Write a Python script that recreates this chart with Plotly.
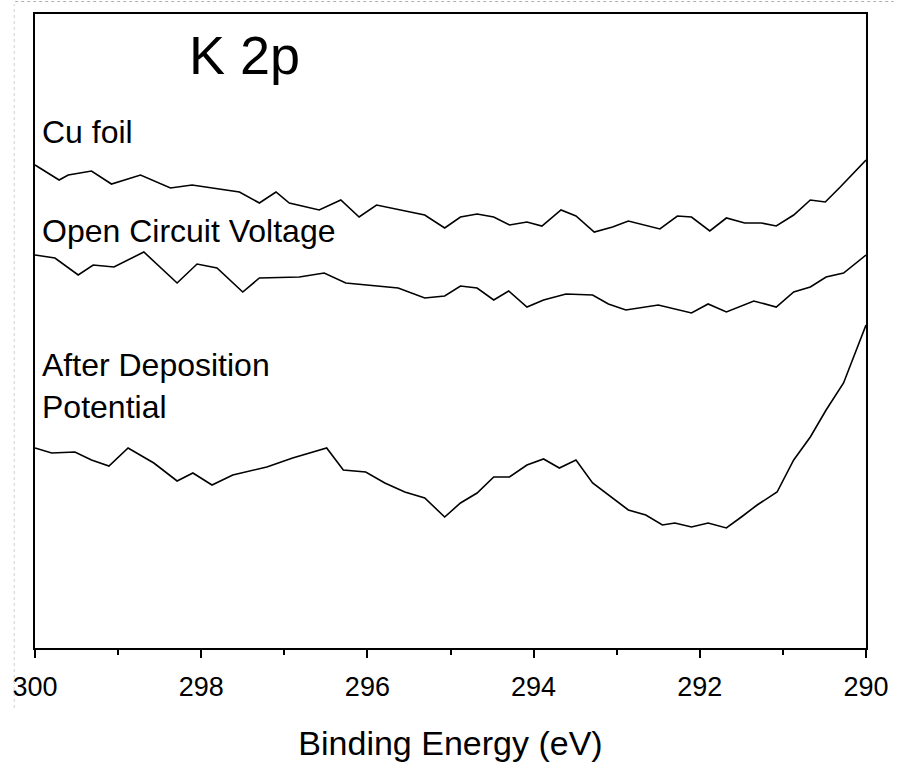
import plotly.graph_objects as go

# Binding energy (eV) and intensity (arb. units, offset stacked)
cu_energy = [300.00, 299.71, 299.60, 299.32, 299.08, 298.73, 298.37, 298.11, 297.54, 297.30,
             297.10, 296.94, 296.58, 296.32, 296.10, 295.89, 295.31, 295.07, 294.88, 294.68,
             294.48, 294.29, 294.08, 293.90, 293.67, 293.49, 293.27, 293.05, 292.86, 292.65,
             292.48, 292.27, 292.10, 291.88, 291.68, 291.46, 291.26, 291.08, 290.87, 290.67,
             290.49, 290.31, 290.00]
cu_intensity = [483, 468, 473, 477, 464, 473, 460, 463, 456, 445,
                456, 445, 438, 448, 431, 443, 433, 420, 431, 434,
                431, 423, 426, 422, 438, 432, 416, 421, 427, 423,
                419, 432, 431, 417, 430, 425, 425, 422, 433, 448,
                446, 461, 488]

ocv_energy = [300.00, 299.76, 299.48, 299.30, 299.05, 298.69, 298.29, 298.05, 297.81, 297.50,
              297.30, 296.82, 296.52, 296.26, 295.63, 295.31, 295.07, 294.88, 294.68, 294.48,
              294.30, 294.08, 293.88, 293.61, 293.29, 293.10, 292.89, 292.50, 292.10, 291.90,
              291.68, 291.35, 291.08, 290.87, 290.67, 290.48, 290.27, 290.00]
ocv_intensity = [393, 390, 373, 383, 381, 396, 365, 384, 380, 356,
                 370, 371, 375, 365, 360, 350, 352, 362, 360, 348,
                 357, 341, 348, 354, 353, 344, 338, 343, 335, 344,
                 336, 347, 341, 356, 361, 371, 375, 393]

adp_energy = [300.00, 299.80, 299.52, 299.32, 299.11, 298.88, 298.57, 298.29, 298.10, 297.87,
              297.62, 297.21, 296.90, 296.49, 296.29, 296.02, 295.79, 295.55, 295.31, 295.07,
              294.88, 294.68, 294.48, 294.29, 294.08, 293.88, 293.69, 293.49, 293.29, 293.05,
              292.86, 292.65, 292.45, 292.30, 292.10, 291.90, 291.68, 291.50, 291.31, 291.07,
              290.87, 290.67, 290.48, 290.27, 290.00]
adp_intensity = [200, 195, 196, 188, 182, 200, 185, 167, 175, 163,
                 173, 181, 190, 200, 178, 176, 165, 156, 150, 131,
                 145, 155, 171, 171, 183, 189, 180, 188, 165, 150,
                 138, 133, 123, 125, 121, 125, 120, 131, 143, 156,
                 188, 211, 238, 265, 323]

x_ticks = [300, 298, 296, 294, 292, 290]
series_labels = ["Cu foil", "Open Circuit Voltage", "After Deposition<br>Potential"]
panel_title = "K 2p"
x_title = "Binding Energy (eV)"

FONT = "Liberation Sans, Arial, sans-serif"

fig = go.Figure()
for ex, iy, name in [(cu_energy, cu_intensity, series_labels[0]),
                     (ocv_energy, ocv_intensity, series_labels[1]),
                     (adp_energy, adp_intensity, series_labels[2])]:
    fig.add_trace(go.Scatter(x=ex, y=iy, mode="lines", name=name.replace("<br>", " "),
                             line=dict(color="black", width=1.6), showlegend=False))

fig.update_layout(
    width=901, height=780,
    margin=dict(l=33, r=28, t=14, b=132),
    paper_bgcolor="white", plot_bgcolor="white",
    font=dict(family=FONT, color="black"),
    xaxis=dict(
        range=[300, 290], tickmode="array", tickvals=x_ticks,
        ticktext=[str(v) for v in x_ticks],
        showline=True, linecolor="black", linewidth=2, mirror=True,
        ticks="outside", ticklen=8, tickwidth=2, tickcolor="black",
        ticklabelstandoff=6,
        minor=dict(dtick=1, tick0=300, ticks="outside", ticklen=5, tickwidth=1.5, tickcolor="black"),
        showgrid=False, zeroline=False,
        tickfont=dict(size=27, family=FONT, color="black"),
        title=dict(text=x_title, font=dict(size=34, family=FONT, color="black"), standoff=30),
    ),
    yaxis=dict(
        range=[0, 634], showline=True, linecolor="black", linewidth=2, mirror=True,
        ticks="", showticklabels=False, showgrid=False, zeroline=False,
    ),
)

# faint dotted scan frame around the figure
fig.add_shape(type="line", xref="paper", yref="paper", x0=-20/840, x1=868/840,
              y0=1 + 12.5/634, y1=1 + 12.5/634,
              line=dict(color="#b0b0b0", width=1, dash="dot"))
fig.add_shape(type="line", xref="paper", yref="paper", x0=-21/840, x1=-21/840,
              y0=-60/634, y1=1 + 10/634,
              line=dict(color="#d0d0d0", width=1, dash="dot"))

fig.add_annotation(text=panel_title, xref="paper", yref="paper", x=0.252, y=0.935,
                   xanchor="center", yanchor="middle", showarrow=False,
                   font=dict(size=54, family=FONT, color="black"))
fig.add_annotation(text=series_labels[0], xref="paper", yref="paper", x=0.006, y=0.814,
                   xanchor="left", yanchor="middle", showarrow=False,
                   font=dict(size=32, family=FONT, color="black"))
fig.add_annotation(text=series_labels[1], xref="paper", yref="paper", x=0.006, y=0.658,
                   xanchor="left", yanchor="middle", showarrow=False,
                   font=dict(size=32, family=FONT, color="black"))
fig.add_annotation(text=series_labels[2], xref="paper", yref="paper", x=0.006, y=0.413,
                   xanchor="left", yanchor="middle", align="left", showarrow=False,
                   font=dict(size=32, family=FONT, color="black"))

fig.write_html("out.html")
